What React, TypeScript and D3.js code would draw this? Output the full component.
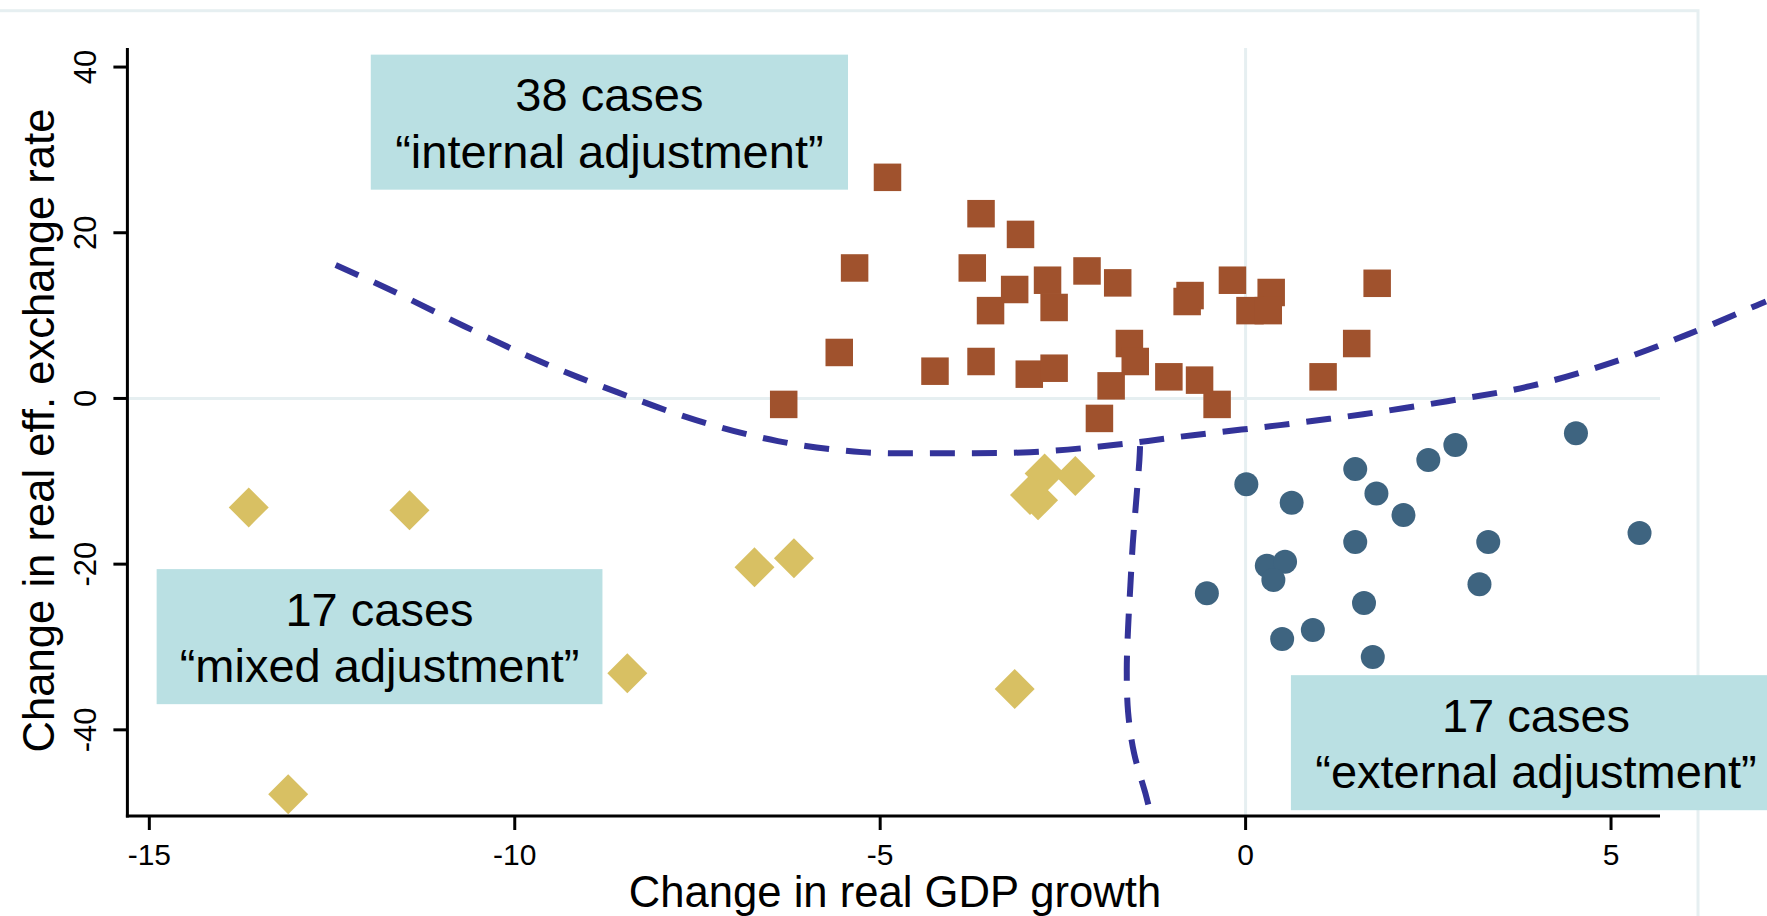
import React from "react";
import * as d3 from "d3";

// ---- data ----
const internalCases: [number, number][] = [
  [-4.9, 26.69], [-3.62, 22.3], [-3.08, 19.8], [-5.35, 15.75], [-3.74, 15.75],
  [-3.16, 13.15], [-3.49, 10.6], [-2.71, 14.27], [-2.62, 10.98], [-2.17, 15.39],
  [-1.75, 13.95], [-0.76, 12.42], [-0.8, 11.7], [-0.18, 14.27], [0.35, 12.79],
  [0.06, 10.6], [0.31, 10.6], [-5.56, 5.55], [-4.25, 3.29], [-3.62, 4.46],
  [-2.96, 2.93], [-2.62, 3.65], [-1.59, 6.63], [-1.51, 4.46], [-1.84, 1.52],
  [-2.0, -2.41], [-1.05, 2.61], [-0.63, 2.21], [-0.39, -0.72], [1.8, 13.9],
  [1.52, 6.63], [1.06, 2.61], [-6.32, -0.72],
];

const mixedCases: [number, number][] = [
  [-13.64, -13.15], [-11.44, -13.51], [-13.1, -47.77], [-8.46, -33.17],
  [-6.72, -20.39], [-6.18, -19.3], [-3.16, -35.07], [-2.75, -9.05],
  [-2.95, -11.66], [-2.84, -12.3], [-2.33, -9.37],
];

const externalCases: [number, number][] = [
  [0.01, -10.37], [0.63, -12.59], [1.5, -8.53], [1.79, -11.46], [2.16, -14.08],
  [2.5, -7.44], [2.87, -5.63], [4.52, -4.19], [5.39, -16.25], [1.5, -17.33],
  [3.32, -17.33], [3.2, -22.44], [-0.53, -23.52], [1.62, -24.69], [0.92, -27.95],
  [0.5, -29.03], [1.74, -31.21], [0.29, -20.19], [0.54, -19.71], [0.38, -21.92],
];

const frontierCurve: [number, number][] = [
  [-12.45, 16.1], [-11.72, 13.18], [-10.69, 8.72], [-9.65, 4.45], [-8.6, 0.76],
  [-7.52, -2.62], [-6.4, -5.15], [-5.25, -6.48], [-4.1, -6.6], [-2.95, -6.48],
  [-1.81, -5.63], [-0.72, -4.43], [0.47, -3.22], [1.61, -1.9], [2.76, -0.33],
  [3.89, 1.48], [4.99, 4.26], [6.06, 7.76], [7.0, 11.26], [7.12, 11.7],
];

const splitCurve: [number, number][] = [
  [-1.444, -5.75], [-1.453, -7.44], [-1.499, -12.55], [-1.544, -17.58],
  [-1.577, -22.64], [-1.608, -27.71], [-1.626, -32.78], [-1.608, -37.84],
  [-1.526, -42.82], [-1.371, -47.65], [-1.33, -49.06],
];

const xTicks = [-15, -10, -5, 0, 5];
const yTicks = [-40, -20, 0, 20, 40];
const xDomain: [number, number] = [-15.3, 5.67];
const yDomain: [number, number] = [-50.4, 42.3];

const xTitle = "Change in real GDP growth";
const yTitle = "Change in real eff. exchange rate";

const boxes = [
  { x0: -11.97, x1: -5.44, y0: 41.5, y1: 25.2, lines: ["38 cases", "\u201cinternal adjustment\u201d"] },
  { x0: -14.9, x1: -8.8, y0: -20.6, y1: -36.9, lines: ["17 cases", "\u201cmixed adjustment\u201d"] },
  { x0: 0.62, x1: 7.3, y0: -33.4, y1: -49.7, lines: ["17 cases", "\u201cexternal adjustment\u201d"] },
];

export default function App() {
  const W = 1767, H = 916;
  const x = d3.scaleLinear().domain(xDomain).range([127.4, 1660]);
  const y = d3.scaleLinear().domain(yDomain).range([816, 48]);
  const line = d3
    .line<[number, number]>()
    .x((d) => x(d[0]))
    .y((d) => y(d[1]))
    .curve(d3.curveCatmullRom);

  const axisFont = "'Liberation Sans', Arial, sans-serif";
  const grid = "#e6eff1";
  const sq = 27.5;
  const dh = 20;

  return (
    <svg
      width={W}
      height={H}
      style={{ position: "fixed", left: 0, top: 0, background: "#ffffff" }}
    >
      {/* outer frame */}
      <rect x={-10} y={10.7} width={1708} height={1000} fill="none" stroke={grid} strokeWidth={3} />

      {/* grid lines */}
      <line x1={x(xDomain[0])} x2={x(xDomain[1])} y1={y(0)} y2={y(0)} stroke={grid} strokeWidth={3} />
      <line x1={x(0)} x2={x(0)} y1={y(yDomain[1])} y2={y(yDomain[0])} stroke={grid} strokeWidth={3} />

      {/* points: internal (squares) */}
      {internalCases.map((d, i) => (
        <rect key={"s" + i} x={x(d[0]) - sq / 2} y={y(d[1]) - sq / 2} width={sq} height={sq} fill="#a0522d" />
      ))}
      {/* mixed (diamonds) */}
      {mixedCases.map((d, i) => {
        const cx = x(d[0]), cy = y(d[1]);
        return (
          <path
            key={"d" + i}
            d={`M${cx},${cy - dh}L${cx + dh},${cy}L${cx},${cy + dh}L${cx - dh},${cy}Z`}
            fill="#d8c063"
          />
        );
      })}
      {/* external (circles) */}
      {externalCases.map((d, i) => (
        <circle key={"c" + i} cx={x(d[0])} cy={y(d[1])} r={12} fill="#3e6480" />
      ))}

      {/* dashed frontiers */}
      <path d={line(frontierCurve) || ""} fill="none" stroke="#333399" strokeWidth={6} strokeDasharray="25 17" />
      <path d={line(splitCurve) || ""} fill="none" stroke="#333399" strokeWidth={6} strokeDasharray="25 17" />

      {/* axes */}
      <line x1={x(xDomain[0])} x2={x(xDomain[0])} y1={y(yDomain[1])} y2={y(yDomain[0]) + 1.5} stroke="#000" strokeWidth={3} />
      <line x1={x(xDomain[0]) - 1.5} x2={x(xDomain[1])} y1={y(yDomain[0])} y2={y(yDomain[0])} stroke="#000" strokeWidth={3} />
      {xTicks.map((t) => (
        <g key={"xt" + t}>
          <line x1={x(t)} x2={x(t)} y1={y(yDomain[0])} y2={y(yDomain[0]) + 14} stroke="#000" strokeWidth={3} />
          <text x={x(t)} y={865} textAnchor="middle" fontFamily={axisFont} fontSize={30} fill="#000">
            {t}
          </text>
        </g>
      ))}
      {yTicks.map((t) => (
        <g key={"yt" + t}>
          <line x1={x(xDomain[0]) - 14} x2={x(xDomain[0])} y1={y(t)} y2={y(t)} stroke="#000" strokeWidth={3} />
          <text
            transform={`translate(95.5,${y(t)}) rotate(-90)`}
            textAnchor="middle"
            fontFamily={axisFont}
            fontSize={31}
            fill="#000"
          >
            {t}
          </text>
        </g>
      ))}
      <text x={895} y={907} textAnchor="middle" fontFamily={axisFont} fontSize={43.6} fill="#000">
        {xTitle}
      </text>
      <text
        transform="translate(53.5,430.5) rotate(-90)"
        textAnchor="middle"
        fontFamily={axisFont}
        fontSize={43.6}
        fill="#000"
      >
        {yTitle}
      </text>

      {/* annotation boxes */}
      {boxes.map((b, i) => {
        const bx0 = x(b.x0), bx1 = x(b.x1), by0 = y(b.y0), by1 = y(b.y1);
        const cx = i === 2 ? 1536 : (bx0 + bx1) / 2;
        const mid = (by0 + by1) / 2;
        return (
          <g key={"b" + i}>
            <rect x={bx0} y={by0} width={bx1 - bx0} height={by1 - by0} fill="#bae0e3" />
            <text x={cx} y={mid - 11} textAnchor="middle" fontFamily={axisFont} fontSize={47} fill="#000">
              {b.lines[0]}
            </text>
            <text x={cx} y={mid + 45.5} textAnchor="middle" fontFamily={axisFont} fontSize={47} fill="#000">
              {b.lines[1]}
            </text>
          </g>
        );
      })}
    </svg>
  );
}
